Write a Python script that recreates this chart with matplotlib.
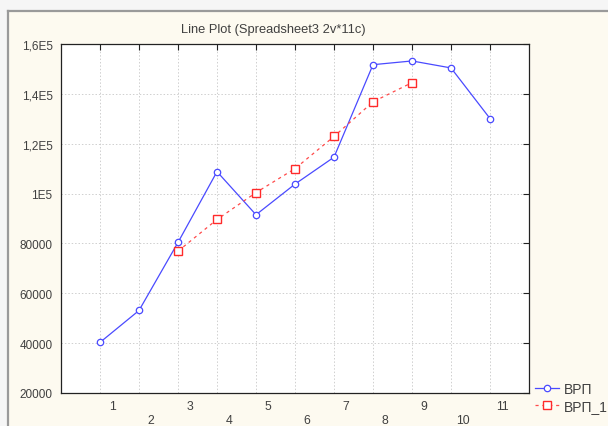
import numpy as np
import matplotlib.pyplot as plt
from matplotlib.patches import Rectangle
from matplotlib.lines import Line2D
import matplotlib.transforms as mtransforms

# Dados
x_vrp = [1, 2, 3, 4, 5, 6, 7, 8, 9, 10, 11]
vrp = [40300, 53100, 80400, 108800, 91500, 103800, 114600, 151700, 153200, 150400, 130100]

x_vrp1 = [3, 4, 5, 6, 7, 8, 9]
vrp_1 = [76900, 89600, 100400, 110000, 122900, 136800, 144500]

y_ticks = [20000, 40000, 60000, 80000, 100000, 120000, 140000, 160000]
y_labels = ["20000", "40000", "60000", "80000", "1E5", "1,2E5", "1,4E5", "1,6E5"]
x_ticks = list(range(1, 12))

plt.rcParams["font.family"] = ["Liberation Sans", "DejaVu Sans"]
text_color = "#404040"

fig = plt.figure(figsize=(6.08, 4.27), dpi=100)
fig.patch.set_facecolor("#f6f6f6")

# Moldura creme com borda cinza (estilo janela)
fig.patches.append(Rectangle((8 / 608, 0), 1, 1 - 12 / 427, transform=fig.transFigure,
                             facecolor="#fdfaf0", edgecolor="none", zorder=-2))
fig.lines.append(Line2D([8 / 608, 1], [1 - 12 / 427, 1 - 12 / 427], transform=fig.transFigure,
                        color="#9a9a9a", linewidth=1.6, zorder=-1))
fig.lines.append(Line2D([8 / 608, 8 / 608], [0, 1 - 12 / 427], transform=fig.transFigure,
                        color="#9a9a9a", linewidth=1.6, zorder=-1))

ax = fig.add_axes([61 / 608, 1 - 394 / 427, 468 / 608, 349 / 427])
ax.set_facecolor("white")
ax.set_zorder(1)

ax.plot(x_vrp, vrp, color="#4a4aff", linewidth=0.9, marker="o", markersize=4.6,
        markerfacecolor="white", markeredgecolor="#4a4aff", markeredgewidth=0.9,
        label="ВРП", zorder=3)
ax.plot(x_vrp1, vrp_1, color="#ff4a4a", linewidth=0.9, linestyle=(0, (2.5, 3)),
        marker="s", markersize=5.2, markerfacecolor="white", markeredgecolor="#ff2a2a",
        markeredgewidth=1.0, label="ВРП_1", zorder=3)

ax.set_xlim(0, 12)
ax.set_ylim(20000, 160000)
ax.set_xticks(x_ticks)
ax.set_yticks(y_ticks)
ax.set_yticklabels(y_labels)
ax.grid(True, color="#cfcfcf", linestyle=(0, (1.5, 2)), linewidth=0.7)
ax.set_axisbelow(True)

ax.tick_params(axis="both", direction="in", length=4, width=0.8, color="#222222",
               top=True, right=True, bottom=False, left=False,
               labelbottom=False, labelleft=True, labelsize=8.5, labelcolor=text_color, pad=6)

for s in ax.spines.values():
    s.set_color("#222222")
    s.set_linewidth(0.9)

# Rótulos do eixo X escalonados em duas linhas
trans = mtransforms.blended_transform_factory(ax.transData, ax.transAxes)
for xt in x_ticks:
    row_y = -0.037 if xt % 2 == 1 else -0.077
    ax.text(xt + 0.31, row_y, str(xt), transform=trans, ha="center", va="center",
            fontsize=8.8, color=text_color)

fig.text(273 / 608, 1 - 30 / 427, "Line Plot (Spreadsheet3 2v*11c)", ha="center", va="center",
         fontsize=9.3, color=text_color)

ax.legend(loc="upper left", bbox_to_anchor=(535 / 608, 1 - 383 / 427), bbox_transform=fig.transFigure,
          frameon=False, fontsize=10, handlelength=1.7, handletextpad=0.4,
          labelspacing=0.2, borderpad=0, borderaxespad=0, labelcolor=text_color)

fig.savefig("out.png", dpi=100, facecolor=fig.get_facecolor())
